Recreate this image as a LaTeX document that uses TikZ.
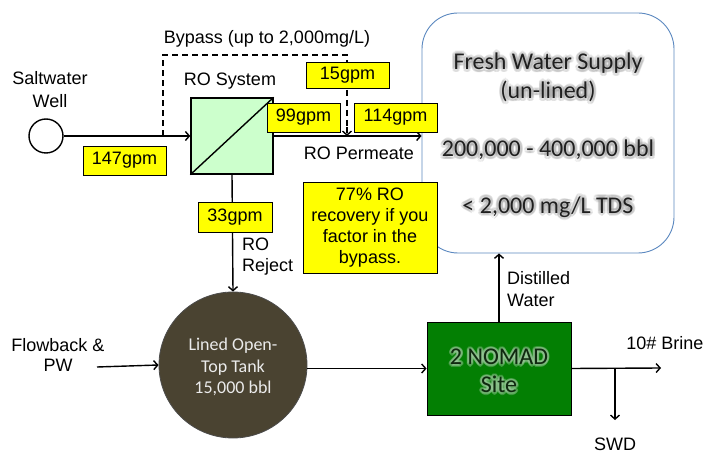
\documentclass[tikz,border=0pt]{standalone}
\usepackage{fontspec}
\setmainfont{Liberation Sans}
\newfontfamily\calib{Carlito}
\usetikzlibrary{shapes.geometric,arrows.meta,calc}
\definecolor{ylw}{HTML}{FFFF00}
\definecolor{rogreen}{HTML}{CCFFCC}
\definecolor{tankc}{HTML}{4A4331}
\definecolor{nomadc}{HTML}{037F03}
\definecolor{fwborder}{HTML}{5B88C0}
\definecolor{glowgray}{HTML}{A0A0A0}
\definecolor{glowgreen}{HTML}{9CC89C}
\definecolor{nomadtxt}{HTML}{102810}
\begin{document}
\begin{tikzpicture}[x=1pt,y=-1pt,
 lbl/.style={font=\fontsize{18}{21}\selectfont, align=center, inner sep=0pt},
 ybox/.style={draw=black, line width=0.8pt, fill=ylw, font=\fontsize{18}{21}\selectfont, inner sep=0pt, align=center},
 flow/.style={line width=1.4pt, -{Straight Barb[length=4pt,width=9pt]}},
 pipe/.style={line width=1.4pt},
 fwtxt/.style={font=\calib\fontsize{24}{29}\selectfont, align=center, inner sep=0pt, text=black!88},
 nmtxt/.style={font=\calib\fontsize{24}{28}\selectfont, align=center, inner sep=0pt, text=nomadtxt},
 tanktxt/.style={font=\calib\fontsize{18}{21.5}\selectfont, align=center, inner sep=0pt, text=white!92!black},
 fwglow/.style={fwtxt, text=glowgray, text opacity=0.22},
 nmglow/.style={nmtxt, text=glowgreen, text opacity=0.35},
]
\useasboundingbox (0,0) rectangle (704,454);
\fill[white] (0,0) rectangle (704,454);

% fresh water supply
\node[draw=fwborder, line width=0.9pt, rounded corners=36pt, fill=white, minimum width=252pt, minimum height=240pt, inner sep=0pt] (fw) at (548,133) {};
\foreach \a in {0,30,...,330}{
 \node[fwglow] (fwga\a) at ($(548,77.5)+(\a:2.8)$) {Fresh Water Supply\\(un-lined)};
 \node[fwglow] (fwgb\a) at ($(548,150)+(\a:2.8)$) {200,000 - 400,000 bbl};
 \node[fwglow] (fwgc\a) at ($(548,207)+(\a:2.8)$) {< 2,000 mg/L TDS};
}
\node[fwtxt] (fwa) at (548,77.5) {Fresh Water Supply\\(un-lined)};
\node[fwtxt] (fwb) at (548,150) {200,000 - 400,000 bbl};
\node[fwtxt] (fwc) at (548,207) {< 2,000 mg/L TDS};

% well
\node[draw, circle, line width=1.4pt, minimum size=34pt, inner sep=0pt, fill=white] (well) at (46,136) {};
\node[lbl, font=\fontsize{18}{23}\selectfont] (welllbl) at (50,90) {Saltwater\\Well};

% RO system
\node[draw, line width=1.4pt, fill=rogreen, minimum width=82pt, minimum height=76pt, inner sep=0pt] (ro) at (232,136) {};
\draw[line width=1.4pt] (ro.south west) -- (ro.north east);
\node[lbl] (rolbl) at (230,81) {RO System};

% bypass
\coordinate (byp1) at (163,136);
\coordinate (byp2) at (347,136);
\draw[pipe, dashed, dash pattern=on 6pt off 4pt] (byp1) -- (163,55) -- (347,55) -- ($(byp2)+(0,-8)$);
\draw[flow, dashed, dash pattern=on 6pt off 4pt] ($(byp2)+(0,-9)$) -- (byp2);
\node[lbl] (byplbl) at (267,39) {Bypass (up to 2,000mg/L)};

% main flows
\draw[flow] (well.east) -- (ro.west);
\draw[flow] (ro.east) -- (ro.east -| fw.west);
\node[lbl] (permlbl) at (359,153) {RO Permeate};

% tank
\node[ellipse, draw=black!70, line width=0.8pt, fill=tankc, minimum width=148pt, minimum height=146pt, inner sep=0pt] (tank) at (233,365) {};
\node[tanktxt] (tanklbl) at (233,367) {Lined Open-\\Top Tank\\15,000 bbl};
\draw[flow] (ro.south) -- (tank.north);
\node[lbl, align=left, anchor=west] (rejlbl) at (242,256.5) {RO\\Reject};

\coordinate (fbin) at (97,367);
\draw[flow] (fbin) -- (tank.west);
\node[lbl, font=\fontsize{18}{20}\selectfont] (fblbl) at (58,355) {Flowback \&\\PW};

% nomad
\node[draw=black, line width=0.8pt, fill=nomadc, minimum width=144pt, minimum height=93pt, inner sep=0pt] (nomad) at (499,368.5) {};
\foreach \a in {0,30,...,330}{
 \node[nmglow] (nmg\a) at ($(499,371)+(\a:2.4)$) {2 NOMAD\\Site};
}
\node[nmtxt] (nmlbl) at (499,371) {2 NOMAD\\Site};
\draw[flow] (tank.east |- nomad.west) -- (nomad.west);
\draw[flow] (nomad.north) -- (nomad.north |- fw.south);
\node[lbl, align=left, anchor=west, font=\fontsize{18}{22}\selectfont] (distlbl) at (507,289) {Distilled\\Water};

\coordinate (brine) at (661,368);
\coordinate (split) at (615,368);
\coordinate (swd) at (615,420);
\draw[flow] (nomad.east) -- (brine);
\draw[flow] (split) -- (swd);
\node[lbl] (brinelbl) at (665,343) {10\# Brine};
\node[lbl] (swdlbl) at (615,444) {SWD};

% yellow labels
\node[ybox, minimum width=83pt, minimum height=29pt] (q147) at (124.5,160.5) {147gpm};
\node[ybox, minimum width=83pt, minimum height=26pt] (q15) at (347.5,75) {15gpm};
\node[ybox, minimum width=73pt, minimum height=29pt] (q99) at (303.5,117.5) {99gpm};
\node[ybox, minimum width=83pt, minimum height=29pt] (q114) at (395.5,117.5) {114gpm};
\node[ybox, minimum width=74pt, minimum height=30pt] (q33) at (235,217) {33gpm};
\node[ybox, minimum width=134pt, minimum height=91pt] (rec) at (370,227.5) {77\% RO\\recovery if you\\factor in the\\bypass.};
\end{tikzpicture}
\end{document}
